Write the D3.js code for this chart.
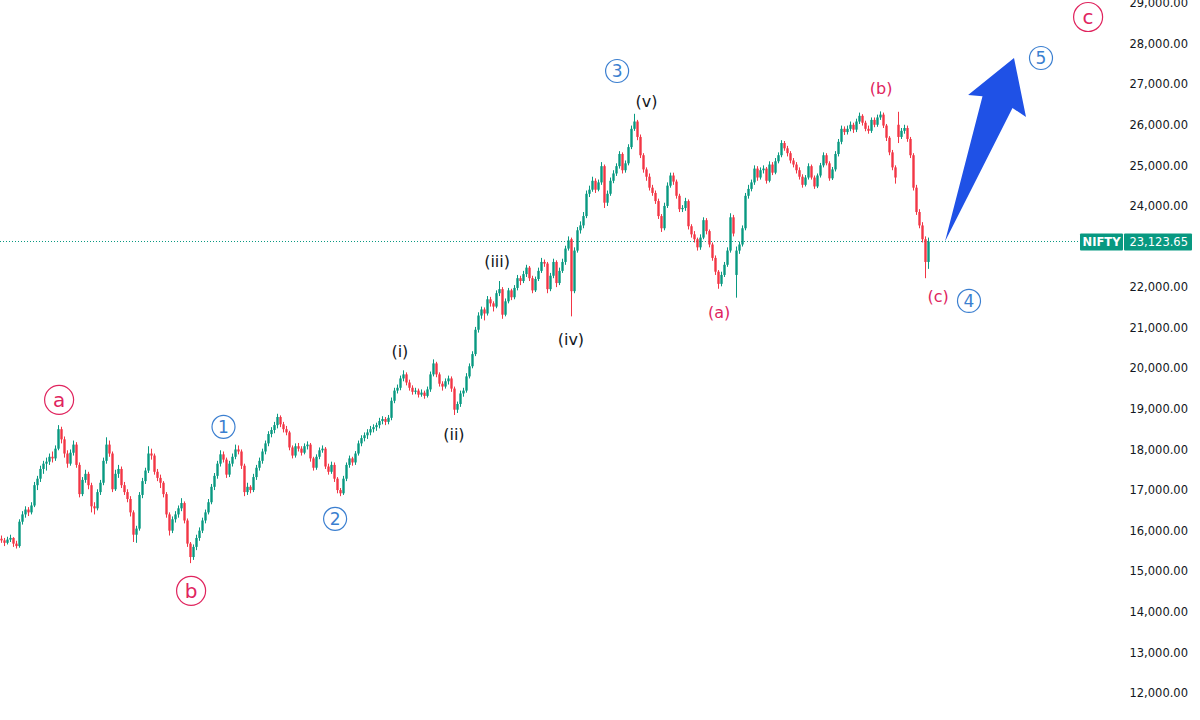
<!DOCTYPE html>
<html>
<head>
<meta charset="utf-8">
<script src="https://cdn.jsdelivr.net/npm/d3@7"></script>
<style>
    html, body { margin: 0; padding: 0; background: #ffffff; }
    svg { display: block; }
</style>
</head>
<body>
<div id="chart"></div>
<script>
// candles, in tens of index points: [open, high, low, close]
var ohlc = [
    [1580,1588,1570,1576],[1576,1582,1562,1570],[1570,1585,1566,1578],[1578,1590,1572,1582],[1582,1584,1560,1568],
    [1568,1575,1556,1562],[1562,1628,1558,1622],[1622,1648,1615,1640],[1640,1660,1632,1652],[1652,1658,1636,1645],
    [1645,1670,1640,1662],[1662,1720,1658,1712],[1712,1735,1700,1728],[1728,1760,1720,1752],[1752,1772,1740,1765],
    [1765,1780,1748,1770],[1770,1790,1762,1782],[1782,1795,1768,1778],[1778,1810,1772,1802],[1802,1860,1798,1850],
    [1850,1856,1815,1825],[1825,1832,1780,1790],[1790,1798,1755,1765],[1765,1800,1760,1792],[1792,1822,1785,1812],
    [1812,1818,1755,1762],[1762,1768,1682,1690],[1690,1732,1685,1725],[1725,1750,1718,1740],[1740,1745,1702,1712],
    [1712,1718,1645,1660],[1660,1670,1640,1655],[1655,1702,1650,1695],[1695,1725,1688,1718],[1718,1780,1712,1772],
    [1772,1830,1765,1812],[1812,1822,1782,1790],[1790,1795,1695,1702],[1702,1750,1698,1740],[1740,1762,1730,1752],
    [1752,1758,1705,1712],[1712,1720,1688,1695],[1695,1702,1670,1678],[1678,1685,1635,1645],[1645,1650,1572,1590],
    [1590,1612,1570,1605],[1605,1695,1600,1688],[1688,1730,1680,1722],[1722,1755,1715,1748],[1748,1808,1742,1790],
    [1790,1802,1775,1785],[1785,1790,1738,1745],[1745,1752,1722,1730],[1730,1738,1705,1718],[1718,1722,1682,1690],
    [1690,1695,1632,1640],[1640,1645,1588,1600],[1600,1635,1594,1628],[1628,1648,1620,1640],[1640,1662,1632,1655],
    [1655,1680,1648,1668],[1668,1672,1618,1625],[1625,1630,1560,1568],[1568,1572,1520,1535],[1535,1566,1528,1560],
    [1560,1590,1552,1582],[1582,1608,1575,1600],[1600,1632,1594,1625],[1625,1652,1618,1645],[1645,1678,1640,1670],
    [1670,1715,1665,1708],[1708,1742,1700,1735],[1735,1772,1728,1765],[1765,1798,1758,1788],[1788,1795,1768,1775],
    [1775,1780,1730,1738],[1738,1772,1732,1765],[1765,1790,1758,1782],[1782,1812,1776,1800],[1800,1810,1788,1795],
    [1795,1800,1752,1760],[1760,1765,1685,1695],[1695,1718,1688,1708],[1708,1712,1692,1700],[1700,1740,1695,1732],
    [1732,1762,1725,1755],[1755,1780,1748,1772],[1772,1802,1765,1795],[1795,1822,1788,1815],[1815,1845,1808,1838],
    [1838,1855,1830,1848],[1848,1868,1840,1860],[1860,1888,1852,1880],[1880,1884,1855,1862],[1862,1868,1842,1850],
    [1850,1858,1835,1842],[1842,1846,1798,1805],[1805,1810,1778,1785],[1785,1815,1780,1808],[1808,1816,1795,1802],
    [1802,1808,1785,1792],[1792,1815,1788,1808],[1808,1820,1800,1812],[1812,1816,1770,1778],[1778,1782,1748,1755],
    [1755,1788,1750,1782],[1782,1805,1776,1798],[1798,1810,1792,1802],[1802,1806,1752,1758],[1758,1765,1738,1745],
    [1745,1770,1740,1762],[1762,1768,1720,1728],[1728,1732,1692,1700],[1700,1705,1685,1692],[1692,1735,1688,1728],
    [1728,1768,1722,1762],[1762,1785,1755,1778],[1778,1782,1760,1768],[1768,1796,1762,1790],[1790,1822,1785,1815],
    [1815,1835,1808,1828],[1828,1842,1820,1835],[1835,1850,1826,1842],[1842,1858,1835,1850],[1850,1862,1842,1855],
    [1855,1866,1846,1860],[1860,1878,1852,1870],[1870,1882,1862,1875],[1875,1880,1860,1868],[1868,1885,1862,1878],
    [1878,1928,1872,1920],[1920,1952,1914,1945],[1945,1960,1938,1952],[1952,1982,1946,1975],[1975,1995,1968,1985],
    [1985,1990,1958,1965],[1965,1972,1945,1952],[1952,1958,1935,1942],[1942,1952,1936,1945],[1945,1950,1928,1935],
    [1935,1948,1930,1940],[1940,1945,1925,1932],[1932,1955,1928,1948],[1948,1992,1942,1985],[1985,2022,1980,2012],
    [2012,2016,1978,1985],[1985,1990,1955,1962],[1962,1968,1945,1955],[1955,1975,1950,1968],[1968,1982,1960,1975],
    [1975,1980,1942,1950],[1950,1955,1885,1898],[1898,1918,1890,1912],[1912,1945,1905,1938],[1938,1952,1930,1945],
    [1945,1988,1940,1980],[1980,2012,1975,2005],[2005,2042,2000,2035],[2035,2102,2030,2095],[2095,2138,2088,2130],
    [2130,2152,2122,2145],[2145,2150,2118,2135],[2135,2178,2130,2170],[2170,2176,2152,2160],[2160,2165,2140,2152],
    [2152,2192,2148,2185],[2185,2215,2178,2195],[2195,2200,2122,2132],[2132,2172,2128,2165],[2165,2198,2160,2192],
    [2192,2196,2168,2175],[2175,2205,2170,2198],[2198,2230,2192,2222],[2222,2228,2205,2215],[2215,2240,2210,2232],
    [2232,2255,2225,2248],[2248,2252,2215,2222],[2222,2228,2185,2192],[2192,2226,2188,2220],[2220,2248,2215,2240],
    [2240,2272,2235,2262],[2262,2268,2250,2258],[2258,2262,2185,2195],[2195,2235,2190,2228],[2228,2270,2222,2262],
    [2262,2266,2200,2210],[2210,2248,2205,2240],[2240,2270,2235,2262],[2262,2302,2255,2295],[2295,2325,2290,2315],
    [2318,2322,2128,2190],[2190,2298,2185,2290],[2290,2348,2285,2340],[2340,2362,2332,2352],[2352,2385,2345,2375],
    [2375,2438,2370,2430],[2430,2450,2422,2440],[2440,2472,2435,2462],[2462,2468,2432,2440],[2440,2465,2436,2458],
    [2458,2508,2452,2498],[2498,2502,2395,2408],[2408,2438,2400,2430],[2430,2470,2425,2462],[2462,2488,2456,2480],
    [2480,2505,2474,2498],[2498,2535,2492,2528],[2528,2532,2480,2488],[2488,2512,2482,2505],[2505,2552,2500,2545],
    [2545,2598,2540,2590],[2590,2627,2585,2608],[2608,2612,2562,2570],[2570,2576,2518,2525],[2525,2530,2482,2490],
    [2490,2495,2462,2472],[2472,2480,2438,2445],[2445,2452,2425,2432],[2432,2438,2405,2412],[2412,2418,2368,2375],
    [2375,2380,2336,2345],[2345,2408,2340,2400],[2400,2458,2395,2450],[2450,2482,2445,2475],[2475,2482,2452,2460],
    [2460,2465,2418,2425],[2425,2430,2385,2392],[2392,2402,2385,2395],[2395,2420,2388,2412],[2412,2416,2342,2350],
    [2350,2355,2322,2330],[2330,2338,2310,2318],[2318,2322,2290,2298],[2298,2330,2292,2322],[2322,2372,2318,2365],
    [2365,2370,2330,2338],[2338,2342,2298,2305],[2305,2310,2265,2272],[2272,2278,2230,2238],[2238,2242,2196,2208],
    [2208,2238,2202,2230],[2230,2262,2225,2255],[2255,2298,2250,2290],[2290,2382,2285,2372],[2372,2378,2325,2332],
    [2230,2300,2174,2290],[2290,2312,2282,2305],[2305,2352,2300,2345],[2345,2432,2340,2425],[2425,2452,2418,2442],
    [2442,2465,2436,2458],[2458,2500,2452,2492],[2492,2498,2462,2470],[2470,2495,2465,2488],[2488,2500,2480,2492],
    [2492,2496,2455,2462],[2462,2510,2458,2502],[2502,2508,2476,2482],[2482,2518,2478,2510],[2510,2532,2505,2525],
    [2525,2562,2520,2555],[2555,2560,2536,2542],[2542,2548,2522,2530],[2530,2535,2505,2512],[2512,2518,2495,2502],
    [2502,2508,2480,2488],[2488,2495,2465,2472],[2472,2478,2445,2452],[2452,2476,2448,2470],[2470,2505,2465,2498],
    [2498,2502,2465,2470],[2470,2475,2442,2448],[2448,2480,2444,2475],[2475,2506,2470,2500],[2500,2532,2495,2525],
    [2525,2530,2500,2505],[2505,2510,2462,2468],[2468,2496,2464,2490],[2490,2535,2485,2528],[2528,2565,2522,2558],
    [2558,2598,2552,2590],[2590,2596,2575,2582],[2582,2598,2576,2590],[2590,2608,2584,2600],[2600,2605,2580,2588],
    [2588,2615,2582,2608],[2608,2630,2602,2622],[2622,2626,2598,2605],[2605,2610,2584,2590],[2590,2598,2578,2585],
    [2585,2618,2580,2612],[2612,2618,2594,2600],[2600,2625,2595,2618],[2618,2633,2612,2625],[2625,2630,2592,2598],
    [2598,2602,2560,2568],[2568,2572,2525,2532],[2532,2538,2488,2495],[2495,2500,2455,2470],[2600,2632,2555,2570],
    [2570,2592,2565,2585],[2585,2600,2578,2592],[2592,2598,2558,2565],[2565,2570,2518,2525],[2525,2530,2438,2445],
    [2445,2452,2378,2385],[2385,2392,2345,2352],[2352,2360,2310,2318],[2318,2325,2222,2262],[2262,2322,2245,2312.365]
];
var lastPrice = 23123.65;
var symbol = 'NIFTY';
var priceTicks = [12000, 13000, 14000, 15000, 16000, 17000, 18000, 19000, 20000,
    21000, 22000, 23000, 24000, 25000, 26000, 27000, 28000, 29000];

// wave counts, anchored at [candle index, price]
var cycleLabels = [
    { t: 'a', i: 19.2, v: 19222 },
    { t: 'b', i: 63.2, v: 14518 },
    { t: 'c', i: 362.2, v: 28655 }
];
var primaryLabels = [
    { t: '1', i: 74.0, v: 18557 },
    { t: '2', i: 111.2, v: 16291 },
    { t: '3', i: 205.2, v: 27325 },
    { t: '4', i: 322.5, v: 21660 },
    { t: '5', i: 346.5, v: 27645 }
];
var minorLabels = [
    { t: '(i)', i: 132.8, v: 20404 },
    { t: '(ii)', i: 150.8, v: 18360 },
    { t: '(iii)', i: 165.2, v: 22645 },
    { t: '(iv)', i: 189.8, v: 20724 },
    { t: '(v)', i: 215.0, v: 26586 }
];
var correctionLabels = [
    { t: '(a)', i: 239.2, v: 21389 },
    { t: '(b)', i: 293.2, v: 26906 },
    { t: '(c)', i: 312.2, v: 21759 }
];
// projected wave 5 arrow outline, [candle index, price]
var arrowPts = [
    [314.5, 23124], [327.0, 26700], [322.2, 26734], [337.5, 27645],
    [341.5, 26192], [337.0, 26414]
];

var width = 1200;
var height = 720;
var upColor = '#089981';
var downColor = '#f23645';
var pink = '#e0245e';
var blue = '#3b7fd0';

var svg = d3.select('#chart')
    .append('svg')
    .attr('width', width)
    .attr('height', height)
    .style('font-family', '"DejaVu Sans", sans-serif');

var x = d3.scaleLinear()
    .domain([0, ohlc.length - 1])
    .range([1.5, 928.5]);

var y = d3.scaleLinear()
    .domain([12000, 29000])
    .range([693, 3]);

// last price line
var yLast = y(lastPrice);
svg.append('line')
    .attr('x1', 0)
    .attr('x2', 1080)
    .attr('y1', yLast)
    .attr('y2', yLast)
    .attr('stroke', upColor)
    .attr('stroke-width', 1)
    .attr('stroke-dasharray', '1,2');

// candles
var candles = svg.append('g').attr('class', 'candles')
    .selectAll('g')
    .data(ohlc)
    .enter()
    .append('g')
    .attr('fill', function (d) {
        return d[3] >= d[0] ? upColor : downColor;
    });

candles.append('rect')
    .attr('x', function (d, i) { return x(i) - 0.5; })
    .attr('width', 1)
    .attr('y', function (d) { return y(d[1] * 10); })
    .attr('height', function (d) { return Math.max(1, y(d[2] * 10) - y(d[1] * 10)); });

candles.append('rect')
    .attr('x', function (d, i) { return x(i) - 1.2; })
    .attr('width', 2.4)
    .attr('y', function (d) { return y(Math.max(d[0], d[3]) * 10); })
    .attr('height', function (d) {
        return Math.max(1, Math.abs(y(d[0] * 10) - y(d[3] * 10)));
    });

// price axis; the tick hidden behind the last price tag is left out
var axis = svg.append('g')
    .attr('transform', 'translate(1188,0)')
    .call(d3.axisRight(y)
        .tickValues(priceTicks.filter(function (t) {
            return Math.abs(y(t) - yLast) > 14;
        }))
        .tickSize(0)
        .tickFormat(d3.format(',.2f')));
axis.select('.domain').remove();
axis.selectAll('text')
    .attr('x', 0)
    .attr('text-anchor', 'end')
    .attr('fill', '#131722')
    .style('font-size', '11.5px')
    .style('font-family', '"DejaVu Sans", sans-serif');

// symbol / last price tag
var tag = svg.append('g').attr('transform', 'translate(0,' + yLast + ')');
tag.append('rect')
    .attr('x', 1080).attr('y', -8).attr('width', 43).attr('height', 17)
    .attr('rx', 1).attr('fill', upColor);
tag.append('rect')
    .attr('x', 1124).attr('y', -8).attr('width', 68).attr('height', 17)
    .attr('rx', 1).attr('fill', upColor);
tag.append('text')
    .attr('x', 1101.5).attr('y', 4.5)
    .attr('text-anchor', 'middle')
    .attr('fill', '#ffffff')
    .style('font-size', '11.5px')
    .style('font-weight', 'bold')
    .text(symbol);
tag.append('text')
    .attr('x', 1188).attr('y', 4.5)
    .attr('text-anchor', 'end')
    .attr('fill', '#ffffff')
    .style('font-size', '11.5px')
    .text(d3.format(',.2f')(lastPrice));

// projected arrow
svg.append('path')
    .attr('d', d3.line()
        .x(function (p) { return x(p[0]); })
        .y(function (p) { return y(p[1]); })
        .curve(d3.curveLinearClosed)(arrowPts))
    .attr('fill', '#1f51e6');

// circled labels
function circled(data, color, r, size) {
    var g = svg.append('g')
        .selectAll('g')
        .data(data)
        .enter()
        .append('g')
        .attr('transform', function (d) {
            return 'translate(' + x(d.i) + ',' + y(d.v) + ')';
        });
    g.append('circle')
        .attr('r', r)
        .attr('fill', '#ffffff')
        .attr('stroke', color)
        .attr('stroke-width', 1.2);
    g.append('text')
        .attr('text-anchor', 'middle')
        .attr('dy', '0.35em')
        .attr('fill', color)
        .style('font-size', size + 'px')
        .text(function (d) { return d.t; });
}
circled(cycleLabels, pink, 14.5, 20);
circled(primaryLabels, blue, 11.5, 17);

function plain(data, color) {
    svg.append('g')
        .selectAll('text')
        .data(data)
        .enter()
        .append('text')
        .attr('x', function (d) { return x(d.i); })
        .attr('y', function (d) { return y(d.v); })
        .attr('dy', '0.35em')
        .attr('text-anchor', 'middle')
        .attr('fill', color)
        .style('font-size', '16px')
        .text(function (d) { return d.t; });
}
plain(minorLabels, '#131722');
plain(correctionLabels, pink);
</script>
</body>
</html>
